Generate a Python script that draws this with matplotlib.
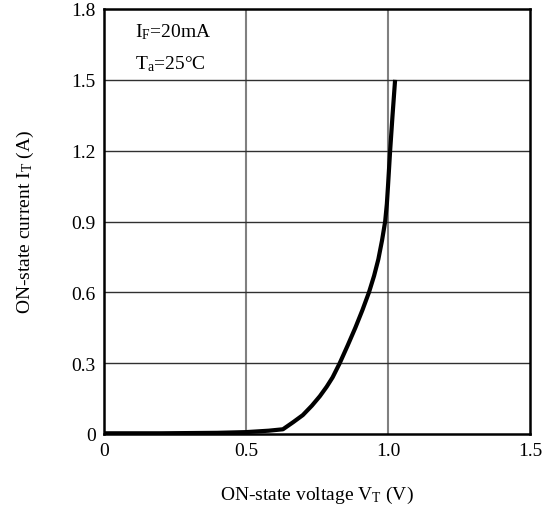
import matplotlib
matplotlib.use("Agg")
import matplotlib.pyplot as plt

plt.rcParams['font.family'] = ['Liberation Serif', 'DejaVu Serif']
plt.rcParams['mathtext.fontset'] = 'custom'
plt.rcParams['mathtext.rm'] = 'Liberation Serif'
plt.rcParams['mathtext.it'] = 'Liberation Serif'

# Data
vt = [0.0, 0.2, 0.4, 0.5, 0.58, 0.630, 0.666, 0.700, 0.732, 0.760, 0.784, 0.805, 0.830, 0.858, 0.885,
      0.910, 0.933, 0.951, 0.966, 0.979, 0.990, 0.996, 1.000, 1.0075, 1.016, 1.025]
it = [0.003, 0.003, 0.005, 0.008, 0.014, 0.02, 0.05, 0.08, 0.12, 0.16, 0.20, 0.24, 0.30, 0.375, 0.45,
      0.525, 0.60, 0.67, 0.74, 0.82, 0.90, 0.975, 1.05, 1.20, 1.35, 1.50]

xticks = [0, 0.5, 1.0, 1.5]
xticklabels = ['0', '0.5', '1.0', '1.5']
yticks = [0, 0.3, 0.6, 0.9, 1.2, 1.5, 1.8]
yticklabels = ['0', '0.3', '0.6', '0.9', '1.2', '1.5', '1.8']

fig = plt.figure(figsize=(5.55, 5.10), dpi=100)
ax = fig.add_axes([104/555, 75/510, (530-104)/555, (435-10)/510])

ax.set_xlim(0, 1.5)
ax.set_ylim(0, 1.8)
ax.set_xticks(xticks)
ax.set_xticklabels(xticklabels)
ax.set_yticks(yticks)
ax.set_yticklabels(yticklabels)
ax.tick_params(length=0, labelsize=14, pad=6)

for x in xticks[1:-1]:
    ax.axvline(x, color='#808080', lw=1.5, zorder=1)
for y in yticks[1:-1]:
    ax.axhline(y, color='#303030', lw=1.0, zorder=1)

ax.plot(vt, it, color='black', lw=3, solid_capstyle='butt', solid_joinstyle='round', zorder=3)

for s in ax.spines.values():
    s.set_linewidth(1.8)
    s.set_color('black')

ax.set_xlabel(r'ON-state voltage V$_\mathregular{T}$ (V)', fontsize=14, labelpad=18)
ax.set_ylabel(r'ON-state current I$_\mathregular{T}$ (A)', fontsize=14, labelpad=25)

ax.text(0.072, 0.97, r'I$_\mathregular{F}$=20mA', transform=ax.transAxes, fontsize=14, va='top', ha='left')
ax.text(0.072, 0.895, r'T$_\mathregular{a}$=25°C', transform=ax.transAxes, fontsize=14, va='top', ha='left')

fig.savefig('out.png', dpi=100)
